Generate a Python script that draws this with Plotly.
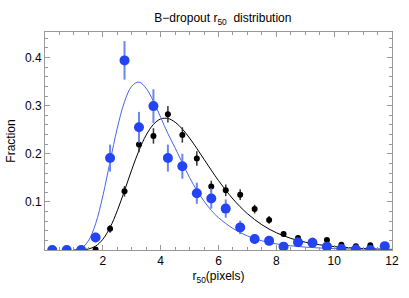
import plotly.graph_objects as go

# Bin centres (pixels)
r50 = [0.25, 0.75, 1.25, 1.75, 2.25, 2.75, 3.25, 3.75, 4.25, 4.75, 5.25, 5.75,
       6.25, 6.75, 7.25, 7.75, 8.25, 8.75, 9.25, 9.75, 10.25, 10.75, 11.25, 11.75]

black_frac = [0.0, 0.0, 0.0, 0.001, 0.044, 0.122, 0.219, 0.237, 0.282, 0.239, 0.190, 0.132,
              0.124, 0.115, 0.085, 0.0625, 0.033, 0.025, 0.019, 0.021, 0.011, 0.008, 0.010, 0.003]
black_err = [0.0, 0.0, 0.0, 0.002, 0.008, 0.011, 0.016, 0.016, 0.017, 0.016, 0.015, 0.012,
             0.012, 0.011, 0.009, 0.008, 0.006, 0.005, 0.004, 0.004, 0.003, 0.003, 0.003, 0.002]

blue_frac = [0.0, 0.0, 0.0, 0.026, 0.191, 0.394, 0.255, 0.299, 0.191, 0.174, 0.118, 0.107,
             0.086, 0.047, 0.023, 0.019, 0.007, 0.016, 0.015, 0.007, 0.002, 0.001, 0.0, 0.008]
blue_err = [0.0, 0.0, 0.0, 0.010, 0.028, 0.040, 0.032, 0.035, 0.028, 0.026, 0.022, 0.021,
            0.019, 0.014, 0.010, 0.009, 0.005, 0.008, 0.008, 0.005, 0.003, 0.002, 0.0, 0.005]

# Fitted curves
curve_x = [1.0, 1.25, 1.5, 1.75, 2.0, 2.25, 2.5, 2.75, 3.0, 3.25, 3.5, 3.75, 4.0, 4.25,
           4.5, 4.75, 5.0, 5.25, 5.5, 5.75, 6.0, 6.5, 7.0, 7.5, 8.0, 8.5, 9.0, 9.5,
           10.0, 10.5, 11.0, 11.5, 12.0]
black_curve = [0.0, 0.0003, 0.0021, 0.0081, 0.0222, 0.0468, 0.0816, 0.1233, 0.1668, 0.2067,
               0.239, 0.261, 0.2723, 0.2733, 0.2656, 0.2514, 0.2326, 0.2111, 0.1885, 0.1659,
               0.1443, 0.106, 0.0755, 0.0525, 0.0359, 0.0242, 0.0162, 0.0108, 0.0071, 0.0047,
               0.0031, 0.0020, 0.0013]
blue_curve = [0.0004, 0.0040, 0.0189, 0.0544, 0.1123, 0.1835, 0.2533, 0.3081, 0.3403, 0.349,
              0.3358, 0.309, 0.2758, 0.2418, 0.2121, 0.1809, 0.1504, 0.1241, 0.1015, 0.0824,
              0.0671, 0.0447, 0.0292, 0.0191, 0.0127, 0.0087, 0.0060, 0.0042, 0.0030, 0.0022,
              0.0016, 0.0012, 0.0009]

x_ticks = [2, 4, 6, 8, 10, 12]
y_ticks = [0.1, 0.2, 0.3, 0.4]

BLUE = "#2444f4"
BLUE_LINE = "#4464ee"
BLUE_ERR = "#6a86f2"
FONT = "Liberation Sans, Arial, sans-serif"

fig = go.Figure()
fig.add_trace(go.Scatter(x=curve_x, y=black_curve, mode="lines", line=dict(color="black", width=1, shape="spline"),
                         hoverinfo="skip"))
fig.add_trace(go.Scatter(x=curve_x, y=blue_curve, mode="lines", line=dict(color=BLUE_LINE, width=1, shape="spline"),
                         hoverinfo="skip"))
fig.add_trace(go.Scatter(x=r50, y=black_frac, mode="markers",
                         marker=dict(color="black", size=6),
                         error_y=dict(type="data", array=black_err, color="#333333", thickness=1.5, width=0)))
fig.add_trace(go.Scatter(x=r50, y=blue_frac, mode="markers",
                         marker=dict(color=BLUE, size=10),
                         error_y=dict(type="data", array=blue_err, color=BLUE_ERR, thickness=2, width=0)))

axis_common = dict(showline=True, linecolor="#999999", linewidth=1, mirror="allticks",
                   ticks="inside", ticklen=5, tickcolor="#999999", showgrid=False, zeroline=False,
                   tickfont=dict(family=FONT, size=12, color="black"))

fig.update_xaxes(range=[0, 12], tickvals=x_ticks,
                 minor=dict(ticks="inside", dtick=0.5, ticklen=3, tickcolor="#999999", tick0=0),
                 title=dict(text="r<sub>50</sub>(pixels)", standoff=4,
                            font=dict(family=FONT, size=12, color="black")),
                 **axis_common)
fig.update_yaxes(range=[0, 0.453], tickvals=y_ticks, tickformat=".1f",
                 minor=dict(ticks="inside", dtick=0.02, ticklen=3, tickcolor="#999999", tick0=0),
                 title=dict(text="Fraction", standoff=6,
                            font=dict(family=FONT, size=12, color="black")),
                 **axis_common)

fig.update_layout(
    width=409, height=298,
    margin=dict(l=45, r=10, t=32, b=48),
    paper_bgcolor="white", plot_bgcolor="white",
    showlegend=False,
    title=dict(text="B\u2212dropout r<sub>50</sub>  distribution", x=0.545, xanchor="center", y=0.94, yanchor="middle",
               font=dict(family=FONT, size=12, color="black")),
)

fig.write_html("out.html", config={"displayModeBar": False},
               post_script="document.body.style.margin='0';")
